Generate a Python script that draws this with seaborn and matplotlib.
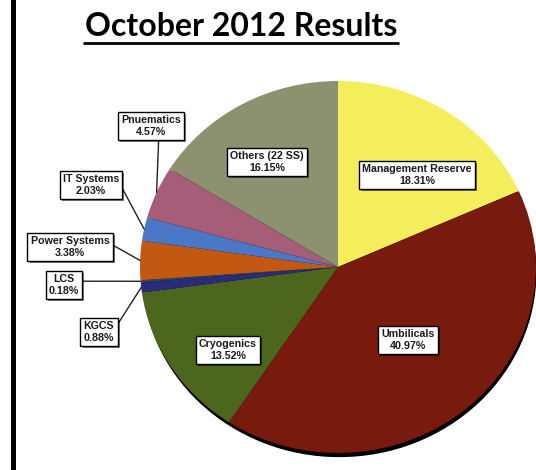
import matplotlib
matplotlib.use("Agg")
import matplotlib.pyplot as plt
import seaborn as sns
import numpy as np
from matplotlib.patches import Ellipse
from matplotlib.lines import Line2D
from matplotlib import patheffects as pe

# Cost shares by subsystem, clockwise from 12 o'clock
categories = ["Management Reserve", "Umbilicals", "Cryogenics", "KGCS", "LCS",
              "Power Systems", "IT Systems", "Pnuematics", "Others (22 SS)"]
shares = [18.31, 40.97, 13.52, 0.88, 0.18, 3.38, 2.03, 4.57, 16.15]
slice_colors = ["#F4EE5C", "#781A0E", "#4D661E", "#2C2A7C", "#1C4C66",
                "#C35812", "#4A78C6", "#A65E78", "#8C9270"]
title = "October 2012 Results"

W, H = 536, 470
sns.set_theme(style="white")
plt.rcParams["font.family"] = ["Liberation Sans", "DejaVu Sans"]

fig = plt.figure(figsize=(W / 100, H / 100), dpi=100)
fig.patch.set_facecolor("white")


def fx(x):
    return x / W


def fy(y):
    return 1 - y / H


# elliptical pie area (pixels)
cx, cy, rx, ry = 338, 267, 198, 186
ax = fig.add_axes([fx(cx - rx), fy(cy + ry), 2 * rx / W, 2 * ry / H])

palette = sns.color_palette(slice_colors)
ax.add_patch(Ellipse((0.006, -0.026), 2, 2, facecolor="black", zorder=0, clip_on=False))
wedges, _ = ax.pie(shares, colors=palette, startangle=90, counterclock=False,
                   radius=1, wedgeprops=dict(linewidth=0))
for w in wedges:
    w.set_zorder(1)
ax.set_aspect("auto")
ax.set_xlim(-1, 1)
ax.set_ylim(-1, 1)
ax.axis("off")

# mid angle of each slice (degrees, counter-clockwise from +x)
cum = np.cumsum([0] + shares)
total = cum[-1]
mid_angles = [90 - 360 * (cum[i] + cum[i + 1]) / 2 / total for i in range(len(shares))]

labels = [f"{c}\n{v:.2f}%" for c, v in zip(categories, shares)]
box = dict(boxstyle="square,pad=0.3", facecolor="white", edgecolor="black", linewidth=1.0)
shadow = [pe.withSimplePatchShadow(offset=(1.5, -1.5), shadow_rgbFace="black", alpha=0.5)]
fs = 7.7

# labels placed on the slices
inside = {"Management Reserve": (417, 175), "Umbilicals": (408, 340),
          "Cryogenics": (228, 350), "Others (22 SS)": (267, 162)}
# callout labels for the thin slices: position, line anchor on the box
callout = {"Pnuematics": ((151, 126), (0.63, 0.0)),
           "IT Systems": ((91, 185), (1.0, 0.62)),
           "Power Systems": ((70, 247), (1.0, 0.68)),
           "LCS": ((64, 285), (1.0, 0.68)),
           "KGCS": ((99, 332), (1.0, 0.62))}

for i, name in enumerate(categories):
    if name in inside:
        x, y = inside[name]
        t = fig.text(fx(x), fy(y), labels[i], ha="center", va="center", fontsize=fs,
                     fontweight="bold", color="#1a1a1a", linespacing=1.15,
                     bbox=box, zorder=5)
    else:
        (x, y), rel = callout[name]
        th = np.deg2rad(mid_angles[i])
        t = ax.annotate(labels[i], xy=(np.cos(th), np.sin(th)),
                        xytext=(x, H - y), textcoords="figure pixels",
                        ha="center", va="center", fontsize=fs, fontweight="bold",
                        color="#1a1a1a", linespacing=1.15, bbox=box, zorder=5,
                        annotation_clip=False,
                        arrowprops=dict(arrowstyle="-", color="#222222", lw=1.0,
                                        shrinkA=0, shrinkB=0, relpos=rel))
    t.get_bbox_patch().set_path_effects(shadow)

# title with underline
ttl = fig.text(fx(241), fy(26), title, ha="center", va="center", fontsize=23,
               fontweight="bold", family=["Lato", "DejaVu Sans"], color="black")
fig.canvas.draw()
bb = ttl.get_window_extent()
fig.add_artist(Line2D([bb.x0 / W - 0.002, bb.x1 / W + 0.002], [fy(42.5), fy(42.5)],
                      transform=fig.transFigure, color="black", lw=2.0))

# left frame rule
fig.add_artist(Line2D([fx(12.5), fx(12.5)], [0, 1], transform=fig.transFigure,
                      color="black", lw=3.6))

fig.savefig("out.png", dpi=100, facecolor="white")
